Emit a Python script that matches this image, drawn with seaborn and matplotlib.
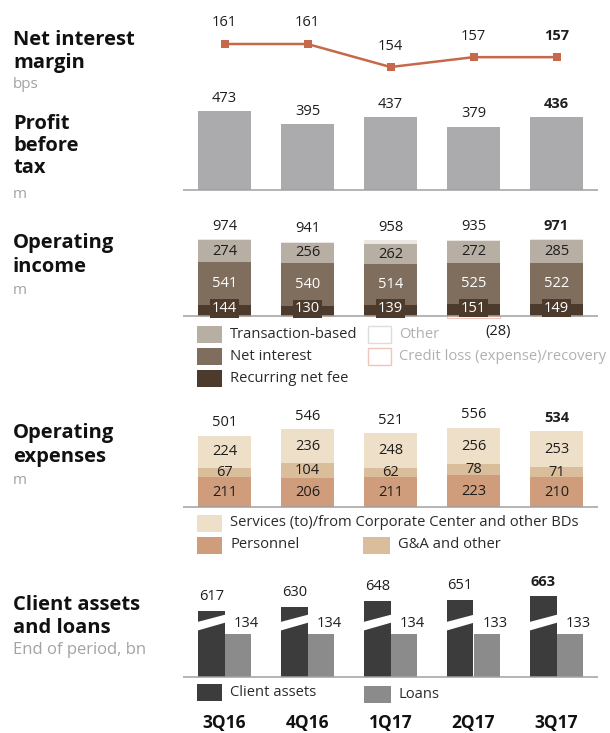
import numpy as np
import pandas as pd
import matplotlib
matplotlib.use("Agg")
import matplotlib.pyplot as plt
from matplotlib.patches import Rectangle, Polygon
import seaborn as sns

# ---------------------------------------------------------------- data
quarters = ["3Q16", "4Q16", "1Q17", "2Q17", "3Q17"]

nim_bps = [161, 161, 154, 157, 157]
profit_before_tax = [473, 395, 437, 379, 436]

income_total = [974, 941, 958, 935, 971]
income_recurring_fee = [144, 130, 139, 151, 149]
income_net_interest = [541, 540, 514, 525, 522]
income_transaction = [274, 256, 262, 272, 285]
income_other = [15, 15, 43, 15, 15]
income_credit_loss = [0, 0, 0, -28, 0]

expenses_total = [501, 546, 521, 556, 534]
expenses_personnel = [211, 206, 211, 223, 210]
expenses_ga_other = [67, 104, 62, 78, 71]
expenses_services = [224, 236, 248, 256, 253]

client_assets_bn = [617, 630, 648, 651, 663]
loans_bn = [134, 134, 134, 133, 133]

# ---------------------------------------------------------------- style
sns.set_theme(style="white")
plt.rcParams["font.family"] = ["Open Sans", "DejaVu Sans"]

C_TEXT = "#1e1e1e"
C_UNIT = "#a3a3a3"
C_BASE = "#a0a0a0"
C_NIM = "#c5694a"
C_PROFIT = "#ababad"
C_TRANS = "#b7afa3"
C_NETINT = "#7f6e5d"
C_RECUR = "#4c3a2c"
C_OTHER = "#ebe7e2"
C_CREDIT = "#f0c4ba"
C_SERV = "#eee0c8"
C_GA = "#dabd9b"
C_PERS = "#cf9d7b"
C_CLIENT = "#3c3c3c"
C_LOANS = "#8b8b8b"

VAL_FS = 10.5
W, H = 610, 733
BAR_W = 0.64
BREAK_OFFSET = 410  # client assets drawn on a broken axis

fig = plt.figure(figsize=(W / 100, H / 100), dpi=100)

# overlay in pixel coordinates for titles and legends
over = fig.add_axes([0, 0, 1, 1])
over.set_xlim(0, W)
over.set_ylim(H, 0)
over.axis("off")


def panel(top, bottom, left=183, right=598):
    ax = fig.add_axes([left / W, 1 - bottom / H, (right - left) / W, (bottom - top) / H])
    ax.set_facecolor("none")
    return ax


def finish(ax, top, bottom, ref_px, ref_val, px_per_unit, baseline=True):
    ax.set_ylim(ref_val - (bottom - ref_px) / px_per_unit,
                ref_val + (ref_px - top) / px_per_unit)
    ax.set_xlim(-0.5, 4.5)
    if baseline:
        ax.axhline(0, color=C_BASE, lw=1.1, zorder=5)
    ax.axis("off")


def label(ax, x, y, txt, dy, dx=0, bold=False, color=C_TEXT, **kw):
    ax.annotate(txt, xy=(x, y), xytext=(dx, dy), textcoords="offset pixels",
                ha="center", va="center", fontsize=VAL_FS, color=color,
                fontweight="bold" if bold else "normal", zorder=6, **kw)


def stack(ax, layers, colors):
    """Stacked bars: draw cumulative totals from the top layer down."""
    cum = np.cumsum(np.array(layers, dtype=float), axis=0)
    for k in range(len(layers) - 1, -1, -1):
        sns.barplot(x=quarters, y=cum[k], color=colors[k], width=BAR_W,
                    saturation=1, linewidth=0, ax=ax)
    return cum


last = len(quarters) - 1

# ---------------------------------------------------------------- net interest margin
ax = panel(8, 82)
sns.lineplot(x=np.arange(len(quarters)), y=nim_bps, color=C_NIM, lw=1.8,
             marker="s", markersize=6, markeredgewidth=0, ax=ax)
for i, v in enumerate(nim_bps):
    label(ax, i, v, f"{v}", 21, bold=(i == last))
finish(ax, 8, 82, 44, 161, 3.29, baseline=False)

# ---------------------------------------------------------------- profit before tax
ax = panel(75, 192)
sns.barplot(x=quarters, y=profit_before_tax, color=C_PROFIT, width=BAR_W,
            saturation=1, linewidth=0, ax=ax)
for i, v in enumerate(profit_before_tax):
    label(ax, i, v, f"{v}", 13, bold=(i == last))
finish(ax, 75, 192, 190, 0, 0.167)

# ---------------------------------------------------------------- operating income
ax = panel(212, 326)
cum = stack(ax,
            [income_recurring_fee, income_net_interest, income_transaction, income_other],
            [C_RECUR, C_NETINT, C_TRANS, C_OTHER])
sns.barplot(x=quarters, y=income_credit_loss, color="white", width=BAR_W,
            saturation=1, edgecolor=C_CREDIT, linewidth=0.8, ax=ax)
for i in range(len(quarters)):
    label(ax, i, cum[3][i], f"{income_total[i]}", 13, bold=(i == last))
    label(ax, i, (cum[1][i] + cum[2][i]) / 2, f"{income_transaction[i]}", 0)
    label(ax, i, (cum[0][i] + cum[1][i]) / 2, f"{income_net_interest[i]}", 0, color="white")
    label(ax, i, cum[0][i] / 2, f"{income_recurring_fee[i]}", 2, color="white",
          bbox=dict(boxstyle="square,pad=0.12", fc=C_RECUR, ec="none"))
finish(ax, 212, 326, 316, 0, 0.079)

# ---------------------------------------------------------------- operating expenses
ax = panel(400, 509)
cum = stack(ax, [expenses_personnel, expenses_ga_other, expenses_services],
            [C_PERS, C_GA, C_SERV])
for i in range(len(quarters)):
    label(ax, i, cum[2][i], f"{expenses_total[i]}", 13, bold=(i == last))
    label(ax, i, (cum[1][i] + cum[2][i]) / 2, f"{expenses_services[i]}", 0)
    label(ax, i, (cum[0][i] + cum[1][i]) / 2, f"{expenses_ga_other[i]}", 0)
    label(ax, i, cum[0][i] / 2, f"{expenses_personnel[i]}", 0)
finish(ax, 400, 509, 507, 0, 0.142)

# ---------------------------------------------------------------- client assets and loans
ax = panel(580, 679)
client_df = pd.DataFrame({
    "quarter": quarters * 2,
    "series": ["Client assets"] * len(quarters) + ["Loans"] * len(quarters),
    "height": [v - BREAK_OFFSET for v in client_assets_bn] + list(loans_bn),
})
sns.barplot(data=client_df, x="quarter", y="height", hue="series",
            palette=[C_CLIENT, C_LOANS], width=BAR_W, saturation=1,
            linewidth=0, legend=False, ax=ax)
half = BAR_W / 2
for i in range(len(quarters)):
    left, right = i - half - 0.02, i + 0.01
    ax.add_patch(Polygon([(left, 144), (right, 170), (right, 195), (left, 171)],
                         closed=True, fc="white", ec="none", zorder=4))
    label(ax, i - half / 2, client_assets_bn[i] - BREAK_OFFSET, f"{client_assets_bn[i]}",
          14, bold=(i == last))
    label(ax, i + half / 2, loans_bn[i], f"{loans_bn[i]}", 11, dx=8)
finish(ax, 580, 679, 677, 0, 0.32)

# ---------------------------------------------------------------- row titles
TITLE_FS = 14.5
UNIT_FS = 11


def row_title(lines, ys, unit, unit_y, unit_fs=UNIT_FS):
    for t, y in zip(lines, ys):
        over.text(13, y, t, fontsize=TITLE_FS, fontweight="bold",
                  color="#111111", va="center", ha="left")
    over.text(13, unit_y, unit, fontsize=unit_fs, color=C_UNIT,
              va="center", ha="left")


row_title(["Net interest", "margin"], [40, 63], "bps", 84)
row_title(["Profit", "before", "tax"], [124, 146, 168], "m", 195)
row_title(["Operating", "income"], [243, 267], "m", 290)
row_title(["Operating", "expenses"], [433, 457], "m", 480)
row_title(["Client assets", "and loans"], [605, 628], "End of period, bn", 650, unit_fs=12)

# ---------------------------------------------------------------- legends
LEG_FS = 10.6


def legend_item(x, y, text, fc, ec="none", color="#2a2a2a", w=25, h=17):
    over.add_patch(Rectangle((x, y - h / 2), w, h, fc=fc, ec=ec, lw=1))
    over.text(x + w + 8, y, text, fontsize=LEG_FS, color=color, va="center", ha="left")


legend_item(197, 334, "Transaction-based", C_TRANS)
legend_item(197, 356, "Net interest", C_NETINT)
legend_item(197, 378, "Recurring net fee", C_RECUR)
legend_item(368, 334, "Other", "white", ec="#dcdcdc", color="#b0b0b0", w=23)
legend_item(368, 356, "Credit loss (expense)/recovery", "white", ec=C_CREDIT,
            color="#b0b0b0", w=23)
over.text(498, 332, f"({-min(income_credit_loss)})", fontsize=VAL_FS, color=C_TEXT,
          ha="center", va="center")

legend_item(197, 523, "Services (to)/from Corporate Center and other BDs", C_SERV)
legend_item(197, 545, "Personnel", C_PERS)
legend_item(363, 545, "G&A and other", C_GA, w=27)

legend_item(197, 692, "Client assets", C_CLIENT)
legend_item(364, 694, "Loans", C_LOANS, w=27)

# ---------------------------------------------------------------- quarter labels
for i, q in enumerate(quarters):
    over.text(224.5 + 83 * i, 714, q, fontsize=12.5, fontweight="bold", color="#111111",
              ha="center", va="top")

fig.savefig("out.png", dpi=100)
